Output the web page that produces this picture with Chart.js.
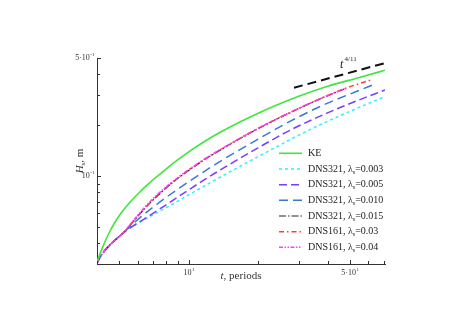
<!DOCTYPE html>
<html>
<head>
<meta charset="utf-8">
<script src="https://cdn.jsdelivr.net/npm/chart.js@4.4.0/dist/chart.umd.min.js"></script>
<style>
html, body { margin: 0; padding: 0; background: #fff; }
#wrap { width: 469px; height: 332px; }
</style>
</head>
<body>
<div id="wrap"><canvas id="chart" width="469" height="332"></canvas></div>
<script>
// t in periods, H in m
const tKE = [4, 4.25, 4.5, 4.8, 5.1, 5.5, 6, 6.7, 7.6, 8.8, 10, 11.7, 14, 20, 30, 40, 54, 71];
const hKE = [0.0310, 0.0383, 0.0455, 0.0534, 0.0604, 0.0686, 0.0778, 0.0899, 0.1038, 0.1221, 0.1387, 0.1598, 0.1844, 0.2350, 0.2961, 0.3400, 0.3810, 0.4228];

// all DNS runs share the same start
const tStart = [4, 4.15, 4.35, 4.6, 4.9, 5.2];
const hStart = [0.0304, 0.0334, 0.0364, 0.0395, 0.0427, 0.0459];

const t003 = [5.6, 6.2, 7, 8.4, 10, 11.7, 14, 20, 30, 40, 54, 71];
const h003 = [0.0494, 0.0536, 0.0587, 0.0673, 0.0771, 0.0871, 0.0999, 0.1300, 0.1741, 0.2106, 0.2522, 0.2955];

const t005 = [5.6, 6.2, 7, 8.4, 10, 11.7, 14, 20, 28, 40, 54, 71];
const h005 = [0.0494, 0.0539, 0.0599, 0.0706, 0.0826, 0.0949, 0.1103, 0.1467, 0.1888, 0.2364, 0.2797, 0.3233];

const t010 = [5.6, 6.2, 7, 8.4, 10, 11.7, 14, 20, 28, 40, 54, 64.4];
const h010 = [0.0505, 0.0571, 0.0652, 0.0783, 0.0924, 0.1064, 0.1242, 0.1652, 0.2133, 0.2699, 0.3183, 0.3507];

const t015 = [5.6, 6.2, 7, 8, 9, 10, 11.7, 14, 20, 28, 38, 48];
const h015 = [0.0514, 0.0604, 0.0719, 0.0850, 0.0969, 0.1077, 0.1246, 0.1447, 0.1905, 0.2397, 0.2900, 0.3306];

const t03 = [5.6, 6.2, 7, 8, 9, 10, 11.7, 14, 20, 28, 38, 48, 62];
const h03 = [0.0516, 0.0608, 0.0725, 0.0856, 0.0975, 0.1083, 0.1252, 0.1453, 0.1912, 0.2403, 0.2904, 0.3310, 0.3713];

const t04 = [5.6, 6.2, 7, 8, 9, 10, 11.7, 14, 20, 28, 38, 48.5];
const h04 = [0.0520, 0.0614, 0.0732, 0.0863, 0.0981, 0.1089, 0.1257, 0.1457, 0.1914, 0.2404, 0.2905, 0.3320];

// t^(4/11) guide line
const tRef = [28.6, 71.2];
const hRef = [0.333, 0.467];

// legend text
const runNames = ['KE', 'DNS321', 'DNS321', 'DNS321', 'DNS321', 'DNS161', 'DNS161'];
const lambdas = [null, '0.003', '0.005', '0.010', '0.015', '0.03', '0.04'];

// axis ticks and labels
const xTicks = [4, 5, 6, 7, 8, 9, 10, 20, 30, 40, 50, 60, 70];
const yTicks = [0.03, 0.04, 0.05, 0.06, 0.07, 0.08, 0.09, 0.1, 0.2, 0.3, 0.4, 0.5];
const xLabelVals = [10, 50];
const xLabelBase = ['10', '5·10'];
const xLabelExp = ['1', '1'];
const yLabelVals = [0.1, 0.5];
const yLabelBase = ['10', '5·10'];
const yLabelExp = ['-1', '-1'];

function pts(ts, hs) {
    return ts.map((t, i) => ({ x: t, y: hs[i] }));
}

const SERIF = '"Liberation Serif", "Times New Roman", serif';

function line(label, data, color, dash, width, order) {
    return {
        label: label,
        data: data,
        borderColor: color,
        backgroundColor: color,
        borderDash: dash,
        borderWidth: width,
        pointRadius: 0,
        fill: false,
        order: order,
        cubicInterpolationMode: 'monotone'
    };
}

const datasets = [
    line('KE', pts(tKE, hKE), '#3ee63e', [], 1.6, 0),
    line('DNS321 0.003', pts(tStart.concat(t003), hStart.concat(h003)), '#2eefff', [3, 3], 1.5, 7),
    line('DNS321 0.005', pts(tStart.concat(t005), hStart.concat(h005)), '#7b3cff', [8, 4], 1.5, 6),
    line('DNS321 0.010', pts(tStart.concat(t010), hStart.concat(h010)), '#3a78d8', [9, 5], 1.5, 5),
    line('DNS321 0.015', pts(tStart.concat(t015), hStart.concat(h015)), '#222222', [7, 2, 1.5, 2], 1.2, 4),
    line('DNS161 0.03', pts(tStart.concat(t03), hStart.concat(h03)), '#ff3b3b', [5, 3, 1.5, 3], 1.5, 3),
    line('DNS161 0.04', pts(tStart.concat(t04), hStart.concat(h04)), '#ff3cff', [4, 1.5, 1.5, 1.5, 1.5, 1.5], 1.5, 2),
    line('ref', pts(tRef, hRef), '#111111', [9, 5], 2, 1)
];

// superscript helper: base text then small raised exponent
function drawPow(ctx, base, exp, x, y, align, size) {
    ctx.font = size + 'px ' + SERIF;
    const wb = ctx.measureText(base).width;
    ctx.font = Math.round(size * 0.62) + 'px ' + SERIF;
    const we = ctx.measureText(exp).width;
    let x0 = align === 'right' ? x - wb - we : x - (wb + we) / 2;
    ctx.textAlign = 'left';
    ctx.textBaseline = 'middle';
    ctx.font = size + 'px ' + SERIF;
    ctx.fillText(base, x0, y);
    ctx.font = Math.round(size * 0.62) + 'px ' + SERIF;
    ctx.fillText(exp, x0 + wb + 0.5, y - size * 0.38);
}

const decor = {
    id: 'decor',
    afterDraw(chart) {
        const ctx = chart.ctx;
        const xs = chart.scales.x, ys = chart.scales.y;
        const a = chart.chartArea;
        ctx.save();
        ctx.strokeStyle = '#333';
        ctx.fillStyle = '#333';
        ctx.lineWidth = 1;
        ctx.setLineDash([]);

        // inward ticks
        xs.ticks.forEach(tk => {
            const px = Math.round(xs.getPixelForValue(tk.value)) + 0.5;
            const len = xLabelVals.includes(tk.value) ? 4 : 3;
            ctx.beginPath();
            ctx.moveTo(px, a.bottom);
            ctx.lineTo(px, a.bottom - len);
            ctx.stroke();
        });
        ys.ticks.forEach(tk => {
            const py = Math.round(ys.getPixelForValue(tk.value)) + 0.5;
            const len = yLabelVals.includes(tk.value) ? 4 : 3;
            ctx.beginPath();
            ctx.moveTo(a.left, py);
            ctx.lineTo(a.left + len, py);
            ctx.stroke();
        });

        // tick labels
        xLabelVals.forEach((v, i) => {
            drawPow(ctx, xLabelBase[i], xLabelExp[i], xs.getPixelForValue(v), a.bottom + 9, 'center', 8);
        });
        yLabelVals.forEach((v, i) => {
            drawPow(ctx, yLabelBase[i], yLabelExp[i], a.left - 3, ys.getPixelForValue(v), 'right', 8);
        });

        // x axis title
        ctx.textBaseline = 'middle';
        ctx.textAlign = 'left';
        ctx.font = 'italic 11px ' + SERIF;
        const wt = ctx.measureText('t').width;
        ctx.font = '11px ' + SERIF;
        const wp = ctx.measureText(', periods').width;
        let x0 = (a.left + a.right) / 2 - (wt + wp) / 2;
        ctx.font = 'italic 11px ' + SERIF;
        ctx.fillText('t', x0, 276);
        ctx.font = '11px ' + SERIF;
        ctx.fillText(', periods', x0 + wt, 276);

        // y axis title, rotated
        ctx.save();
        ctx.translate(80, (a.top + a.bottom) / 2);
        ctx.rotate(-Math.PI / 2);
        ctx.font = 'italic 11px ' + SERIF;
        const wh = ctx.measureText('H').width;
        ctx.font = '7px ' + SERIF;
        const ws = ctx.measureText('s').width;
        ctx.font = '11px ' + SERIF;
        const wm = ctx.measureText(', m').width;
        let y0 = -(wh + ws + wm) / 2;
        ctx.font = 'italic 11px ' + SERIF;
        ctx.fillText('H', y0, 0);
        ctx.font = '7px ' + SERIF;
        ctx.fillText('s', y0 + wh, 3);
        ctx.font = '11px ' + SERIF;
        ctx.fillText(', m', y0 + wh + ws, 0);
        ctx.restore();

        // t^(4/11) annotation
        ctx.fillStyle = '#222';
        ctx.textBaseline = 'alphabetic';
        ctx.font = 'italic 12px ' + SERIF;
        ctx.fillText('t', 340, 68);
        ctx.font = '7px ' + SERIF;
        ctx.fillText('4/11', 344.5, 61);

        // legend inside the plot
        const lx0 = 279, lx1 = 302, tx = 308;
        const ly0 = 153.3, step = 15.67;
        runNames.forEach((name, i) => {
            const ds = datasets[i];
            const y = ly0 + i * step;
            ctx.strokeStyle = ds.borderColor;
            ctx.lineWidth = ds.borderWidth;
            ctx.setLineDash(ds.borderDash);
            ctx.beginPath();
            ctx.moveTo(lx0, y);
            ctx.lineTo(lx1, y);
            ctx.stroke();
            ctx.setLineDash([]);
            ctx.fillStyle = '#222';
            ctx.textBaseline = 'middle';
            ctx.font = '10px ' + SERIF;
            if (lambdas[i] === null) {
                ctx.fillText(name, tx, y);
                return;
            }
            const s1 = name + ', λ';
            ctx.fillText(s1, tx, y);
            let xx = tx + ctx.measureText(s1).width;
            ctx.font = '6px ' + SERIF;
            ctx.fillText('s', xx, y + 3);
            xx += ctx.measureText('s').width;
            ctx.font = '10px ' + SERIF;
            ctx.fillText('=' + lambdas[i], xx, y);
        });
        ctx.restore();
    }
};

new Chart(document.getElementById('chart').getContext('2d'), {
    type: 'line',
    data: { datasets: datasets },
    options: {
        responsive: false,
        animation: false,
        devicePixelRatio: 1,
        parsing: true,
        layout: { padding: { left: 0, top: 58, right: 84, bottom: 0 } },
        plugins: {
            legend: { display: false },
            tooltip: { enabled: false }
        },
        scales: {
            x: {
                type: 'logarithmic',
                min: 4,
                max: 71,
                afterFit: s => { s.height = 68; },
                afterBuildTicks: s => { s.ticks = xTicks.map(v => ({ value: v })); },
                ticks: { display: false },
                grid: { display: false },
                border: { display: true, color: '#333', width: 1 }
            },
            y: {
                type: 'logarithmic',
                min: 0.03,
                max: 0.5,
                afterFit: s => { s.width = 97; },
                afterBuildTicks: s => { s.ticks = yTicks.map(v => ({ value: v })); },
                ticks: { display: false },
                grid: { display: false },
                border: { display: true, color: '#333', width: 1 }
            }
        }
    },
    plugins: [decor]
});
</script>
</body>
</html>
